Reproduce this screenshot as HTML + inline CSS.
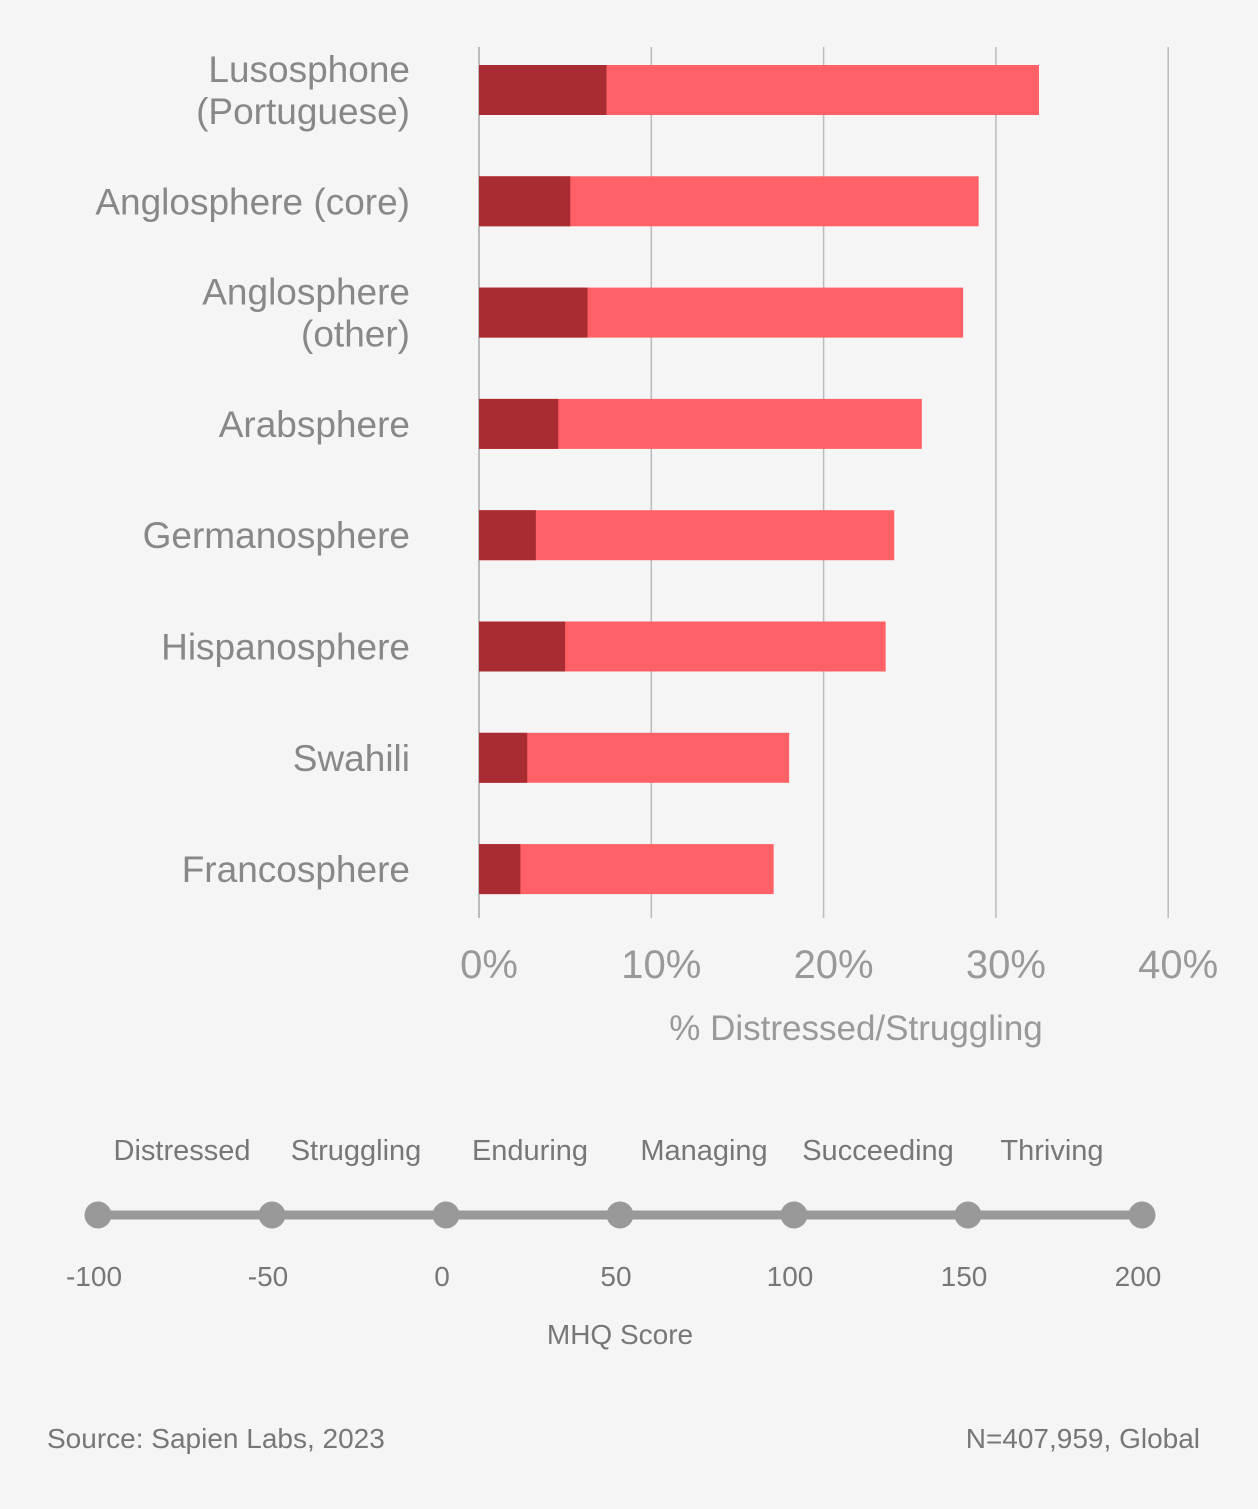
<!DOCTYPE html>
<html><head><meta charset="utf-8">
<style>
html,body{margin:0;padding:0;background:#f5f5f5;}
svg{display:block;font-family:"Liberation Sans",sans-serif;}
</style></head>
<body>
<svg id="chart" width="1258" height="1509" viewBox="0 0 1258 1509" xmlns="http://www.w3.org/2000/svg">
<rect x="0" y="0" width="1258" height="1509" fill="#f5f5f5"/>
<g id="grid"></g>
<g id="bars"></g>
<g id="cats"></g>
<g id="ticks"></g>
<text x="856" y="1040" text-anchor="middle" font-size="35" fill="#999">% Distressed/Struggling</text>
<g id="scale"></g>
<text x="620" y="1344" text-anchor="middle" font-size="28" fill="#777">MHQ Score</text>
<text x="47" y="1448" font-size="28" fill="#777">Source: Sapien Labs, 2023</text>
<text x="1200" y="1448" text-anchor="end" font-size="28" fill="#777">N=407,959, Global</text>
</svg>
<script>
const categories=[["Lusosphone","(Portuguese)"],["Anglosphere (core)"],["Anglosphere","(other)"],["Arabsphere"],["Germanosphere"],["Hispanosphere"],["Swahili"],["Francosphere"]];
const distressed=[7.4,5.3,6.3,4.6,3.3,5.0,2.8,2.4];
const total=[32.5,29.0,28.1,25.7,24.1,23.6,18.0,17.1];
const xTicks=[0,10,20,30,40];
const xTickLabels=["0%","10%","20%","30%","40%"];
const scaleValues=[-100,-50,0,50,100,150,200];
const scaleLabels=["Distressed","Struggling","Enduring","Managing","Succeeding","Thriving"];

const NS="http://www.w3.org/2000/svg";
const x=v=>479+v*17.23;
const y=i=>90+i*111.3;
const sx=v=>98+(v+100)/300*1044;
function mk(tag,attrs,parent,txt){const e=document.createElementNS(NS,tag);for(const k in attrs)e.setAttribute(k,attrs[k]);if(txt!==undefined)e.textContent=txt;parent.appendChild(e);return e;}
const grid=document.getElementById('grid'),bars=document.getElementById('bars'),cats=document.getElementById('cats'),ticks=document.getElementById('ticks'),scale=document.getElementById('scale');
xTicks.forEach((t,i)=>{
  const l=mk('line',{x1:x(t),x2:x(t),y1:47,y2:918,stroke:i==0?'#aaa':'#bbb','stroke-width':1.5},grid);
  
  
  const tx=mk('text',{x:x(t)+10,y:978,'text-anchor':'middle','font-size':40,fill:'#999'},ticks,xTickLabels[i]);
  
  
});
categories.forEach((c,i)=>{
  const cy=y(i);
  const b2=mk('rect',{x:x(0),y:cy-25,width:x(total[i])-x(0),height:50,fill:'#ff6166'},bars);
  
  
  const b1=mk('rect',{x:x(0),y:cy-25,width:x(distressed[i])-x(0),height:50,fill:'#a82c32'},bars);
  
  
  const t=mk('text',{x:410,'text-anchor':'end','font-size':37,fill:'#888'},cats);
  
  
  const start=c.length==1?cy+13:cy-8;
  c.forEach((s,j)=>mk('tspan',{x:410,y:start+j*42},t,s));
});
mk('line',{x1:sx(-100),x2:sx(200),y1:1215,y2:1215,stroke:'#999','stroke-width':9},scale);
scaleValues.forEach((v,i)=>{
  const c=mk('circle',{cx:sx(v),cy:1215,r:13.5,fill:'#999'},scale);
  
  
  const t=mk('text',{x:sx(v)-4,y:1286,'text-anchor':'middle','font-size':28,fill:'#777'},scale,String(v));
  
  
});
scaleLabels.forEach((s,i)=>{
  const cx=(sx(scaleValues[i])+sx(scaleValues[i+1]))/2-3;
  const t=mk('text',{x:cx,y:1160,'text-anchor':'middle','font-size':29,fill:'#777'},scale,s);
  
  
});
</script>
</body></html>
